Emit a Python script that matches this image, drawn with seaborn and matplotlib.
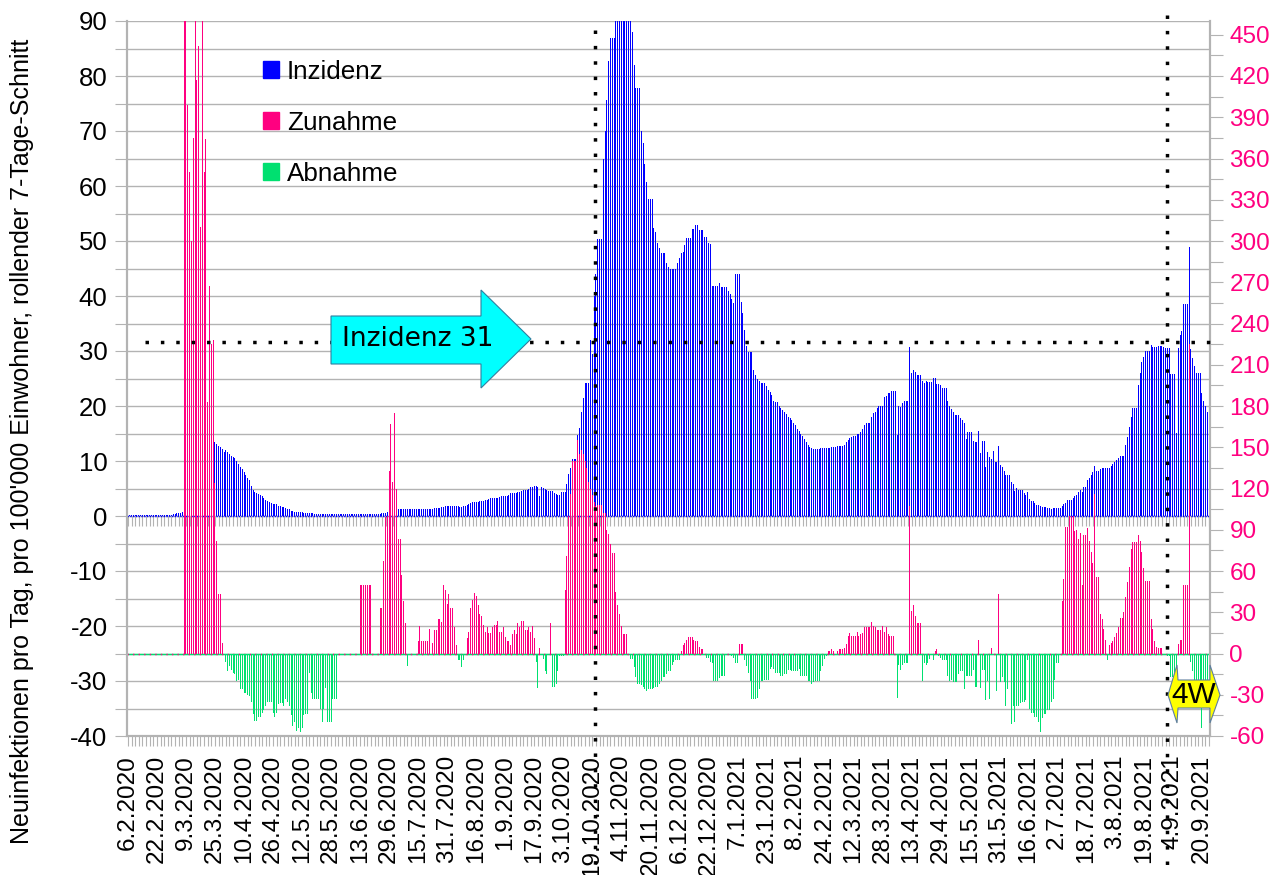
import numpy as np
import pandas as pd
import matplotlib
matplotlib.use('Agg')
import matplotlib.pyplot as plt
import seaborn as sns
from matplotlib.lines import Line2D
from matplotlib.patches import Patch, Polygon
from matplotlib.ticker import MultipleLocator

# one row per tick interval (16 days), first day 6.2.2020
inzidenz = [
    .1, .1, .1, .1, .1, .1, .1, .1, .1, .1, .1, .1, .1, .1, .1, .1,
    .1, .1, .1, .1, .1, .1, .1, .1, .2, .3, .4, .5, .6, .6, .7, .8,
    .9, 1, 1.4, 1.7, 2, 2.5, 3, 3.6, 4.2, 6, 7, 8, 9, 10.5, 12.5, 13,
    13.5, 13.1, 12.8, 12.6, 12.2, 11.7, 12, 11.6, 11.3, 10.9, 10.7, 10.5, 10, 9.5, 9, 8.5,
    8, 7.5, 7, 6.5, 5.5, 4.8, 4.4, 4.1, 4, 3.9, 3.6, 3.3, 3, 2.8, 2.6, 2.4,
    2.2, 2.1, 2.1, 1.9, 1.8, 1.7, 1.6, 1.5, 1.3, 1.2, 1, .9, .8, .7, .7, .7,
    .7, .6, .6, .6, .5, .5, .5, .4, .4, .4, .4, .4, .4, .4, .4, .4,
    .4, .4, .4, .4, .4, .4, .4, .4, .4, .4, .4, .4, .4, .4, .4, .4,
    .4, .4, .4, .4, .4, .4, .4, .4, .4, .4, .4, .4, .5, .5, .6, .7,
    .8, .8, .9, 1, 1.1, 1.2, 1.2, 1.2, 1.2, 1.2, 1.2, 1.2, 1.2, 1.2, 1.2, 1.2,
    1.2, 1.2, 1.2, 1.2, 1.2, 1.2, 1.2, 1.3, 1.3, 1.4, 1.4, 1.4, 1.5, 1.6, 1.7, 1.9,
    1.9, 1.9, 1.9, 1.9, 1.9, 1.9, 1.8, 1.7, 1.7, 1.9, 1.9, 2, 2.1, 2.3, 2.5, 2.5,
    2.6, 2.6, 2.8, 2.8, 2.8, 2.9, 3, 3.1, 3.2, 3.2, 3.3, 3.3, 3.3, 3.4, 3.6, 3.7,
    3.7, 3.7, 3.9, 4.1, 4.2, 4.2, 4.2, 4.4, 4.4, 4.6, 4.7, 4.7, 4.8, 5, 5.2, 5.3,
    5.4, 5.4, 5.2, 3.6, 5.2, 5.1, 4.9, 4.7, 4.6, 4.6, 4.5, 4.1, 4, 3.9, 3.9, 4.3,
    4.4, 4.4, 5.8, 7.6, 8.7, 10.4, 10.4, 10.4, 14.7, 16, 18.9, 21.5, 24.2, 24.2, 24.2, 32,
    29.5, 40, 44, 50.3, 50.3, 50.3, 65, 70, 75.6, 82.7, 87, 87, 87, 92, 92, 92,
    92, 92, 92, 92, 92, 92, 88, 82, 77.8, 77.8, 77.8, 70, 67.8, 64, 60.7, 57.6,
    57.6, 57.6, 52.3, 51.7, 49.6, 48.7, 47.8, 47.8, 47.8, 46, 45.3, 45, 45, 45, 45, 46,
    47, 47.8, 48, 49.3, 50.5, 50.5, 50.5, 52.2, 52.2, 53, 53, 52, 52, 52, 50.7, 50.7,
    49.6, 49.5, 41.8, 41.8, 41.8, 41.8, 42.3, 41.6, 41.6, 41.6, 41.6, 41, 40.4, 39.5, 38.7, 44,
    44, 44, 38.9, 36.9, 33.8, 31, 29.8, 29.8, 29.8, 26.5, 25.6, 25, 24.5, 24.2, 24.2, 24.2,
    23.6, 22.9, 22.5, 22, 21, 20.7, 20.7, 20, 19.7, 19.3, 19, 18.5, 18, 17.8, 17.5, 17,
    16.5, 15.8, 15.5, 15, 14.5, 14, 13.5, 13, 12.5, 12.3, 12.2, 12.2, 12.2, 12.2, 12.3, 12.3,
    12.3, 12.3, 12.4, 12.4, 12.5, 12.6, 12.6, 12.7, 12.7, 12.7, 12.8, 12.9, 13.5, 13.8, 14.1, 14.3,
    14.5, 14.5, 15, 15, 15.3, 15.9, 16.5, 17, 17, 17, 18, 18.7, 18.9, 19.6, 20, 20,
    20, 21.7, 21.9, 22.4, 22.4, 22.7, 22.7, 22.7, 14.7, 20, 19.8, 20.5, 21, 21, 21, 30.7,
    26, 26.5, 26.2, 25.6, 25.6, 25.6, 24.5, 24.2, 24.5, 24.4, 24.4, 24.4, 25.1, 25.1, 24, 24,
    23.8, 23.3, 23.3, 23.3, 20.9, 20, 19.5, 18.9, 18.4, 18.4, 18.4, 17.8, 17.5, 16.9, 14, 15.3,
    15.3, 15.3, 13.6, 13.5, 13.5, 15.5, 11.5, 13.6, 13.6, 8.9, 11.6, 10.7, 10.4, 11.8, 9.8, 9.8,
    12.7, 9.3, 8.9, 8.2, 7.5, 7.5, 7.5, 6.2, 5.8, 4.5, 5.1, 4.7, 4.7, 4.7, 4.2, 3.8,
    4.4, 3.1, 2.7, 2.7, 2.4, 2, 2, 1.8, 1.6, 1.6, 1.6, 1.5, 1.5, 1.3, 1.5, 1.5,
    1.5, 1.5, 1.5, 1.8, 2.2, 2.4, 2.9, 2.9, 2.9, 3.2, 3.6, 3.8, 4.4, 4.7, 4.4, 5.3,
    5.3, 6.5, 6.9, 7.5, 8, 9.1, 8.2, 8.2, 8.5, 8.7, 8.7, 8.7, 8.7, 8.7, 9.1, 9.5,
    9.8, 10.2, 10.5, 10.9, 10.9, 10.9, 12.9, 14.4, 16.2, 18, 19.6, 19.6, 19.6, 23.8, 26, 28,
    29, 30, 30, 30, 31.1, 30.7, 30.7, 30.7, 31, 31, 31, 30.7, 30.5, 30.5, 30.5, 25.8,
    25.8, 25.8, 15.1, 30.5, 33, 33.6, 38.5, 38.5, 38.5, 48.9, 30.4, 28.7, 27.3, 26, 26, 26,
    22.4, 21, 20, 18.9, 17.8,
]

# change of the incidence, right axis: above 0 Zunahme, below 0 Abnahme
aenderung = [
    0, 0, 0, 0, 0, 0, 0, 0, 0, 0, 0, 0, 0, 0, 0, 0,
    0, 0, 0, 0, 0, 0, 0, 0, 0, 0, 0, 0, 0, 0, 0, 500,
    500, 399, 350, 300, 375, 500, 417, 442, 310, 500, 350, 374, 183, 267, 225, 228,
    124, 82, 43, 43, 8, 0, -6, -13, -9, -12, -14, -15, -20, -19, -26, -26,
    -29, -29, -30, -31, -35, -44, -49, -49, -46, -46, -43, -41, -38, -35, -35, -35,
    -43, -46, -43, -37, -36, -36, -38, -33, -35, -38, -45, -53, -50, -56, -54, -57,
    -54, -45, -44, -44, -14, -29, -33, -33, -33, -33, -40, -50, -40, -25, -50, -50,
    -50, -33, -33, -33, 0, 0, 0, 0, 0, 0, 0, 0, 0, 0, 0, 0,
    50, 50, 50, 50, 50, 50, 50, 0, 0, 0, 0, 33, 33, 67, 99, 100,
    133, 167, 125, 175, 120, 83, 83, 57, 38, 22, -9, 0, 0, 0, 0, 0,
    9, 20, 9, 9, 9, 9, 18, 0, 8, 17, 17, 25, 25, 23, 50, 46,
    36, 43, 33, 33, 19, 6, -5, -5, -10, -5, 0, 11, 16, 33, 39, 44,
    42, 35, 29, 27, 21, 16, 19, 15, 15, 19, 21, 21, 24, 16, 16, 19,
    12, 9, 9, 6, 14, 17, 14, 22, 19, 24, 24, 17, 17, 19, 16, 20,
    11, -6, -25, 4, 0, -4, -13, -15, 0, 22, -24, -24, -22, -13, -2, -2,
    -2, 46, 71, 100, 116, 140, 140, 140, 155, 145, 148, 145, 140, 135, 125, 120,
    115, 110, 107, 108, 108, 108, 102, 102, 90, 87, 80, 73, 73, 45, 35, 29,
    20, 14, 14, 14, 0, -4, -4, -10, -17, -22, -22, -23, -24, -26, -27, -26,
    -26, -26, -25, -24, -24, -22, -20, -17, -17, -15, -13, -13, -8, -6, -5, -5,
    -5, 2, 6, 8, 10, 12, 12, 12, 10, 9, 9, 5, 3, 3, 0, -3,
    -3, -6, -7, -20, -20, -20, -18, -16, -16, -16, 0, 0, 0, -2, -3, -7,
    -7, 7, 7, 7, -5, -9, -14, -20, -33, -33, -33, -32, -26, -20, -20, -19,
    -19, -19, -11, -10, -11, -14, -14, -14, -16, -16, -15, -15, -12, -12, -13, -13,
    -13, -13, -11, -16, -16, -16, -16, -20, -20, -22, -21, -20, -20, -20, -13, -9,
    -4, -2, 2, 2, 3, 2, 0, 2, 3, 3, 3, 4, 7, 13, 15, 13,
    13, 13, 16, 13, 14, 15, 19, 19, 19, 19, 23, 20, 19, 17, 17, 17,
    20, 16, 19, 14, 13, 13, 13, 0, -32, -8, -12, -8, -7, -7, -7, 107,
    31, 35, 27, 22, 22, 22, -20, -7, -8, -7, -4, 0, -5, 2, 3, -2,
    -3, -5, -5, -5, -16, -20, -19, -21, -21, -21, -15, -13, -13, -26, -16, -16,
    -16, -16, -12, -24, -24, 10, -25, -12, -12, -34, -20, -33, 4, 0, 0, -27,
    43, -21, -17, -21, -38, -26, 0, -51, -38, -50, -38, -38, -36, -35, -35, -34,
    -5, -40, -43, -43, -46, -46, -50, -57, -47, -44, -44, -41, -41, -35, -33, -19,
    -7, -7, 0, 38, 54, 92, 92, 100, 100, 100, 89, 90, 83, 88, 50, 86,
    86, 91, 82, 74, 66, 116, 56, 56, 29, 25, 18, 10, -5, 6, 8, 9,
    12, 15, 19, 26, 26, 30, 41, 52, 63, 76, 81, 81, 81, 86, 82, 74,
    62, 53, 53, 53, 25, 18, 9, 5, 4, 4, 4, -1, -1, -2, -2, -17,
    -17, -17, -17, 7, 10, 10, 50, 50, 50, 225, -6, -13, -19, -19, -19, -19,
    -54, -19, -19, -19, -19,
]

tick_labels = [
    '6.2.2020', '22.2.2020', '9.3.2020', '25.3.2020', '10.4.2020', '26.4.2020', '12.5.2020', '28.5.2020',
    '13.6.2020', '29.6.2020', '15.7.2020', '31.7.2020', '16.8.2020', '1.9.2020', '17.9.2020', '3.10.2020',
    '19.10.2020', '4.11.2020', '20.11.2020', '6.12.2020', '22.12.2020', '7.1.2021', '23.1.2021', '8.2.2021',
    '24.2.2021', '12.3.2021', '28.3.2021', '13.4.2021', '29.4.2021', '15.5.2021', '31.5.2021', '16.6.2021',
    '2.7.2021', '18.7.2021', '3.8.2021', '19.8.2021', '4.9.2021', '20.9.2021',
]

BLUE = '#0000ff'
PINK = '#ff0080'
GREEN = '#00e070'
GRAY = '#b3b3b3'
W, H = 1271, 875

sns.set_style('white')
plt.rcParams['font.family'] = ['Liberation Sans', 'DejaVu Sans']
plt.rcParams['text.color'] = 'black'
plt.rcParams['axes.unicode_minus'] = False

df = pd.DataFrame({'tag': np.arange(len(inzidenz)), 'inzidenz': inzidenz, 'aenderung': aenderung})
df['zunahme'] = df['aenderung'].clip(lower=0)
df['abnahme'] = df['aenderung'].clip(upper=0)

fig = plt.figure(figsize=(W / 100, H / 100), dpi=100)
ax = fig.add_axes([127 / W, 1 - 736 / H, 1083 / W, 715 / H])
ax2 = ax.twinx()

# width of about one pixel per day
bar_kw = dict(x='tag', width=0.552, saturation=1, errorbar=None, antialiased=False, linewidth=0)
sns.barplot(data=df, y='inzidenz', color=BLUE, ax=ax, **bar_kw)
sns.barplot(data=df, y='zunahme', color=PINK, ax=ax2, **bar_kw)
sns.barplot(data=df, y='abnahme', color=GREEN, ax=ax2, **bar_kw)

# baselines of both series
ax.axhline(0, color=BLUE, lw=1, ls=(0, (1, 1)), zorder=3)
ax2.axhline(0, color=GREEN, lw=1, zorder=0.5)
ax2.axhline(0, color=PINK, lw=1, ls=(0, (1, 3)), zorder=0.6)

ax.set_xlim(-0.5, len(df) - 0.5)
ax.set_ylim(-40, 90)
ax2.set_ylim(-60, 460)
ax.set_xlabel('')
ax.set_ylabel('')
ax2.set_ylabel('')

ax.yaxis.set_major_locator(MultipleLocator(10))
ax.yaxis.set_minor_locator(MultipleLocator(5))
ax2.yaxis.set_major_locator(MultipleLocator(30))
ax2.yaxis.set_minor_locator(MultipleLocator(15))
ax.set_axisbelow(True)
ax.grid(True, axis='y', which='both', color=GRAY, lw=1)
ax.grid(False, axis='x')
ax2.grid(False)

ax.set_xticks(np.arange(0, len(df), 16))
ax.set_xticklabels(tick_labels, rotation=90, fontsize=17.5, color='black')
ax.set_xticks(np.arange(0, len(df), 2), minor=True)
ax.tick_params(axis='x', which='both', direction='out', bottom=True, length=7.5, width=0.8, color=GRAY, pad=6)
ax.tick_params(axis='y', which='both', direction='out', left=True, length=9, width=0.8, color=GRAY)
ax.tick_params(axis='y', which='major', labelsize=18.5, labelcolor='black', pad=5)
ax2.tick_params(axis='y', which='both', direction='out', right=True, length=9, width=0.8, color=GRAY)
ax2.tick_params(axis='y', which='major', labelsize=17.5, labelcolor=PINK, pad=5)
ax2.xaxis.set_visible(False)

# second row of day ticks at the zero line of the incidence
sec = ax.secondary_xaxis(220 / 715)
sec.set_xticks(np.arange(0, len(df), 2))
sec.set_xticklabels([])
sec.tick_params(axis='x', direction='out', length=7.5, width=0.8, color=GRAY)
sec.spines['bottom'].set_visible(False)

for a in (ax, ax2):
    for side in a.spines:
        a.spines[side].set_color(GRAY)
        a.spines[side].set_linewidth(1.5)
    a.spines['top'].set_visible(False)

fig.text(22 / W, 1 - 441 / H, "Neuinfektionen pro Tag, pro 100'000 Einwohner, rollender 7-Tage-Schnitt",
         rotation=90, ha='center', va='center', fontsize=18)

ax2.legend(handles=[Patch(color=BLUE), Patch(color=PINK), Patch(color=GREEN)],
           labels=['Inzidenz', 'Zunahme', 'Abnahme'], frameon=False, fontsize=18.7,
           loc='upper left', bbox_to_anchor=(136 / 1083, 1 - 39 / 715), borderaxespad=0, borderpad=0,
           handlelength=0.62, handleheight=0.62, handletextpad=0.3, labelspacing=1.03)


def px(points):
    return [(x / W, 1 - y / H) for x, y in points]


# dotted marker lines run past the plot area
dots = dict(color='black', lw=2.5, ls=(0, (1, 3.43)), dash_capstyle='butt', zorder=2)
fig.add_artist(Line2D(*zip(*px([(145, 342), (1213, 342)])), transform=fig.transFigure, **dots))
fig.add_artist(Line2D(*zip(*px([(595, 30), (595, 875)])), transform=fig.transFigure, **dots))
fig.add_artist(Line2D(*zip(*px([(1167, 15), (1167, 875)])), transform=fig.transFigure, **dots))

fig.add_artist(Polygon(px([(331, 316), (481, 316), (481, 290), (531, 339), (481, 388), (481, 364), (331, 364)]),
                       closed=True, transform=fig.transFigure, fc='#00ffff', ec='#2f7f9f', lw=0.8, zorder=3))
fig.text(418 / W, 1 - 339 / H, 'Inzidenz 31', family=['DejaVu Sans'], fontsize=19,
         ha='center', va='center', zorder=4)

fig.add_artist(Polygon(px([(1168, 695), (1177, 665), (1178, 680), (1210, 680), (1210, 665), (1220, 695),
                           (1210, 723), (1210, 708), (1178, 708), (1177, 723)]),
                       closed=True, transform=fig.transFigure, fc='#ffff00', ec='#5f7f9f', lw=0.8, zorder=3))
fig.text(1194 / W, 1 - 695 / H, '4W', fontsize=21.5, ha='center', va='center', zorder=4)

fig.savefig('out.png', dpi=100)
